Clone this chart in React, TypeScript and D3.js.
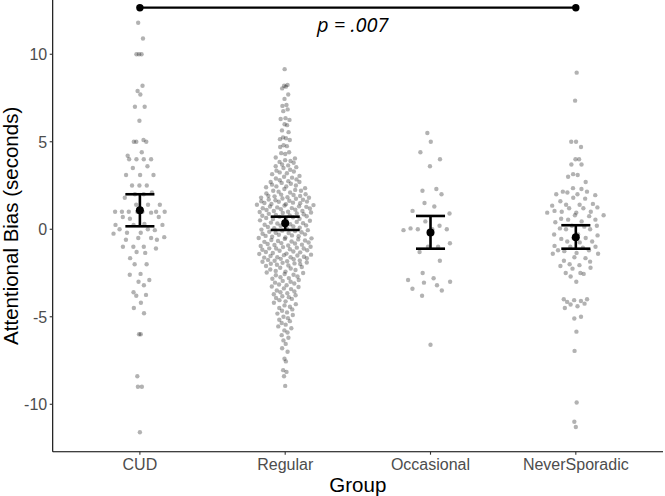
import React from "react";
import * as d3 from "d3";

const groups = ["CUD", "Regular", "Occasional", "NeverSporadic"];

const cudValues = [
  11.8, 10.9, 10.0, 10.0, 10.0, 8.2, 7.9, 7.7, 7.0, 7.0, 6.2, 5.0, 5.0, 5.0, 5.1, 4.4, 4.2, 4.0, 4.0, 4.0,
  4.0, 3.6, 3.5, 3.1, 3.1, 3.1, 2.5, 2.5, 2.5, 2.1, 2.0, 2.0, 1.8, 1.4, 1.4, 1.4, 1.0, 1.0, 1.0, 1.0,
  1.0, 1.0, 1.0, 0.95, 0.7, 0.7, 0.6, 0.25, 0.25, 0.25, 0.3, 0.0, 0.0, -0.05, -0.2, -0.2, -0.25, -0.5,
  -0.5, -0.45, -0.6, -0.6, -1.0, -1.0, -1.0, -1.1, -1.3, -1.35, -1.65, -2.0, -2.0, -2.55, -2.6, -2.9,
  -3.0, -3.2, -3.6, -3.75, -3.8, -4.2, -4.5, -4.8, -6.0, -6.0, -8.4, -9.0, -9.0, -11.6,
];

const regularValues = [
  9.15, 8.25, 8.2, 8.15, 8.05, 7.7, 7.45, 7.1, 7.05, 6.85, 6.75, 6.35, 6.3, 6.25, 6.0, 5.95, 5.65, 5.55,
  5.25, 5.2, 5.15, 5.1, 4.8, 4.75, 4.7, 4.4, 4.35, 4.3, 4.1, 4.05,
  3.95, 3.9, 3.85, 3.8, 3.7, 3.65, 3.6, 3.55, 3.5, 3.4, 3.35, 3.3, 3.25, 3.2, 3.15, 3.05, 3.0, 2.95, 2.9,
  2.85, 2.8, 2.75, 2.7, 2.7, 2.65, 2.6, 2.55, 2.5, 2.45, 2.45, 2.4, 2.35, 2.3, 2.25, 2.2, 2.2, 2.15, 2.1,
  2.05, 2.0,
  1.98, 1.96, 1.91, 1.9, 1.88, 1.83, 1.81, 1.8, 1.76, 1.74, 1.7, 1.69, 1.66, 1.63, 1.6, 1.58, 1.57, 1.52,
  1.5, 1.49, 1.44, 1.43, 1.4, 1.38, 1.36, 1.31, 1.3, 1.28, 1.25, 1.21, 1.2, 1.19, 1.14, 1.12, 1.1, 1.05,
  1.04, 1.0, 0.99, 0.96, 0.93, 0.9, 0.88, 0.86, 0.82, 0.79, 0.77, 0.74, 0.71, 0.68, 0.64, 0.6, 0.58, 0.55,
  0.51, 0.49, 0.45, 0.42, 0.38, 0.35, 0.33, 0.29, 0.26, 0.22, 0.2, 0.16, 0.13, 0.09, 0.06, 0.02,
  -0.02, -0.05, -0.08, -0.1, -0.14, -0.17, -0.2, -0.22, -0.26, -0.29, -0.31, -0.35, -0.38, -0.4, -0.43,
  -0.47, -0.5, -0.52, -0.55, -0.58, -0.61, -0.64, -0.67, -0.7, -0.72, -0.76, -0.79, -0.81, -0.84, -0.88,
  -0.9, -0.93, -0.96, -1.0, -1.02, -1.05, -1.09, -1.1, -1.14, -1.17, -1.2, -1.23, -1.27, -1.3, -1.32,
  -1.36, -1.39, -1.41, -1.45, -1.48, -1.5, -1.53, -1.57, -1.6, -1.62, -1.66, -1.69, -1.71, -1.75, -1.78,
  -1.8, -1.83, -1.86, -1.9, -1.92, -1.95, -1.97, -1.99, -1.6, -1.1,
  -2.03, -2.07, -2.1, -2.16, -2.2, -2.24, -2.3, -2.33, -2.38, -2.42, -2.47, -2.5, -2.56, -2.6, -2.63,
  -2.7, -2.74, -2.79, -2.83, -2.9, -2.95, -3.0, -3.05, -3.1, -3.16, -3.2, -3.27, -3.3, -3.38, -3.42,
  -3.5, -3.55, -3.6, -3.66, -3.71, -3.77, -3.83, -3.88, -3.93, -3.98,
  -4.05, -4.12, -4.2, -4.28, -4.35, -4.43, -4.5, -4.58, -4.66, -4.75, -4.82, -4.9, -5.0, -5.08, -5.17,
  -5.25, -5.36, -5.45, -5.55, -5.66, -5.78, -5.9,
  -6.05, -6.2, -6.35, -6.55, -6.8, -7.0, -7.4, -7.55, -8.05, -8.15, -8.4, -8.95,
];

const occasionalValues = [
  5.5, 5.0, 4.4, 4.0, 3.6, 2.3, 2.2, 2.0, 1.5, 1.3, 1.05, 0.9, 0.45, 0.2, 0.0, 0.0, 0.05, 0.0, -0.05,
  -0.8, -1.0, -1.0, -1.3, -1.8, -2.5, -2.8, -2.9, -3.0, -3.05, -3.2, -3.4, -3.5, -3.8, -6.6,
];

const neverSporadicValues = [
  8.95, 7.35, 5.0, 5.0, 4.7, 4.0, 4.0, 3.7, 3.7, 3.15, 3.1, 3.0, 2.7, 2.35, 2.3, 2.15, 2.15, 2.1, 2.0,
  2.0, 1.95, 1.8, 1.75, 1.6, 1.4, 1.4, 1.35, 1.45, 1.25, 1.2, 1.2, 1.05, 1.0, 1.0, 0.95, 0.95, 0.8, 0.8,
  0.75, 0.6, 0.55, 0.55, 0.45, 0.4, 0.2, 0.2, 0.15, 0.0, 0.0, 0.05, -0.3, -0.35, -0.3, -0.5, -0.5, -0.55,
  -0.7, -0.7, -0.75, -1.0, -1.0, -1.05, -0.95, -1.2, -1.2, -1.25, -1.35, -1.4, -1.4, -1.6, -1.65, -1.8,
  -1.85, -2.0, -2.05, -2.1, -2.2, -2.25, -2.5, -2.5, -2.55, -2.7, -3.0, -4.0, -4.0, -4.05, -4.1, -4.15,
  -4.25, -4.3, -4.4, -4.5, -5.0, -5.1, -5.85, -6.95, -9.9, -11.0, -11.3,
];

const groupValues = [cudValues, regularValues, occasionalValues, neverSporadicValues];

const means = [1.09, 0.34, -0.19, -0.46];
const ciLower = [0.17, -0.04, -1.11, -1.11];
const ciUpper = [2.0, 0.72, 0.76, 0.23];

const yTicks = [-10, -5, 0, 5, 10];
const pLabel = "p = .007";
const sigFrom = "CUD";
const sigTo = "NeverSporadic";
const sigLevel = 12.66;

const xTitle = "Group";
const yTitle = "Attentional Bias (seconds)";

const W = 665;
const H = 496;
const panelLeft = 52.7;
const panelRight = 663;
const panelTop = 0;
const panelBottom = 451.7;

// van der Corput sequence (base 2), as used by quasirandom layouts
function vanDerCorput(i: number): number {
  let n = i;
  let denom = 1;
  let v = 0;
  while (n > 0) {
    denom *= 2;
    v += (n % 2) / denom;
    n = Math.floor(n / 2);
  }
  return v;
}

function quasirandomOffsets(values: number[]): number[] {
  const n = values.length;
  const sorted = [...values].sort((a, b) => a - b);
  const sd = d3.deviation(values) || 1;
  const iqr = (d3.quantile(sorted, 0.75)! - d3.quantile(sorted, 0.25)!) / 1.34;
  const bw = 0.9 * Math.min(sd, iqr > 0 ? iqr : sd) * Math.pow(n, -0.2) * 0.5;
  const dens = (y: number) =>
    d3.sum(values, (v) => Math.exp(-0.5 * ((y - v) / bw) ** 2));
  const lo = sorted[0] - 3 * bw;
  const hi = sorted[n - 1] + 3 * bw;
  let maxD = 0;
  for (let k = 0; k <= 512; k++) {
    maxD = Math.max(maxD, dens(lo + ((hi - lo) * k) / 512));
  }
  const order = d3.range(n).sort((a, b) => values[a] - values[b] || a - b);
  const rank = new Array(n);
  order.forEach((idx, r) => (rank[idx] = r + 1));
  return values.map((v, i) => (vanDerCorput(rank[i]) - 0.5) * 2 * (dens(v) / maxD));
}

export default function App() {
  const x = d3
    .scalePoint<string>()
    .domain(groups)
    .range([panelLeft, panelRight])
    .padding(0.6);
  const step = x.step();
  const halfWidth = 0.2 * step;
  const y = d3.scaleLinear().domain([-12.71, 13.1]).range([panelBottom, panelTop]);

  const capHalf = 0.1 * step;

  return (
    <svg
      width={W}
      height={H}
      style={{ position: "absolute", left: 0, top: 0, background: "white" }}
      fontFamily="'Liberation Sans', Arial, sans-serif"
    >
      <rect x={0} y={0} width={W} height={H} fill="white" />
      {/* points */}
      {groupValues.map((vals, gi) => {
        const offs = quasirandomOffsets(vals);
        const cx0 = x(groups[gi])!;
        return (
          <g key={gi}>
            {vals.map((v, i) => (
              <circle
                key={i}
                cx={cx0 + offs[i] * halfWidth}
                cy={y(v)}
                r={2.2}
                fill="black"
                fillOpacity={0.3}
              />
            ))}
          </g>
        );
      })}
      {/* error bars */}
      {groups.map((g, gi) => {
        const cx = x(g)!;
        return (
          <g key={g} stroke="black" strokeWidth={2.6}>
            <line x1={cx} x2={cx} y1={y(ciLower[gi])} y2={y(ciUpper[gi])} />
            <line x1={cx - capHalf} x2={cx + capHalf} y1={y(ciLower[gi])} y2={y(ciLower[gi])} />
            <line x1={cx - capHalf} x2={cx + capHalf} y1={y(ciUpper[gi])} y2={y(ciUpper[gi])} />
            <circle cx={cx} cy={y(means[gi])} r={4} fill="black" stroke="none" />
          </g>
        );
      })}
      {/* significance bar */}
      <g>
        <line
          x1={x(sigFrom)!}
          x2={x(sigTo)!}
          y1={y(sigLevel)}
          y2={y(sigLevel)}
          stroke="black"
          strokeWidth={2.2}
        />
        <circle cx={x(sigFrom)!} cy={y(sigLevel)} r={3.7} fill="black" />
        <circle cx={x(sigTo)!} cy={y(sigLevel)} r={3.7} fill="black" />
        <text
          x={(x(sigFrom)! + x(sigTo)!) / 2 - 5}
          y={31.5}
          textAnchor="middle"
          fontStyle="italic"
          fontFamily="'Open Sans', sans-serif"
          fontSize={20}
          fill="black"
        >
          {pLabel}
        </text>
      </g>
      {/* axes */}
      <line x1={panelLeft} x2={panelLeft} y1={panelTop} y2={panelBottom} stroke="black" strokeWidth={1.1} />
      <line x1={panelLeft} x2={panelRight} y1={panelBottom} y2={panelBottom} stroke="black" strokeWidth={1.1} />
      {yTicks.map((t) => (
        <g key={t}>
          <line x1={panelLeft - 3} x2={panelLeft} y1={y(t)} y2={y(t)} stroke="#333333" strokeWidth={1.1} />
          <text
            x={panelLeft - 5.5}
            y={y(t)}
            dy="0.36em"
            textAnchor="end"
            fontSize={16}
            fill="#4d4d4d"
          >
            {t}
          </text>
        </g>
      ))}
      {groups.map((g) => (
        <g key={g}>
          <line x1={x(g)!} x2={x(g)!} y1={panelBottom} y2={panelBottom + 3} stroke="#333333" strokeWidth={1.1} />
          <text x={x(g)!} y={469.8} textAnchor="middle" fontSize={16} fill="#4d4d4d">
            {g}
          </text>
        </g>
      ))}
      <text
        x={(panelLeft + panelRight) / 2}
        y={491.5}
        textAnchor="middle"
        fontSize={20.5}
        fill="black"
      >
        {xTitle}
      </text>
      <text
        transform={`translate(18, ${(panelTop + panelBottom) / 2}) rotate(-90)`}
        textAnchor="middle"
        fontSize={20.5}
        fill="black"
      >
        {yTitle}
      </text>
    </svg>
  );
}
